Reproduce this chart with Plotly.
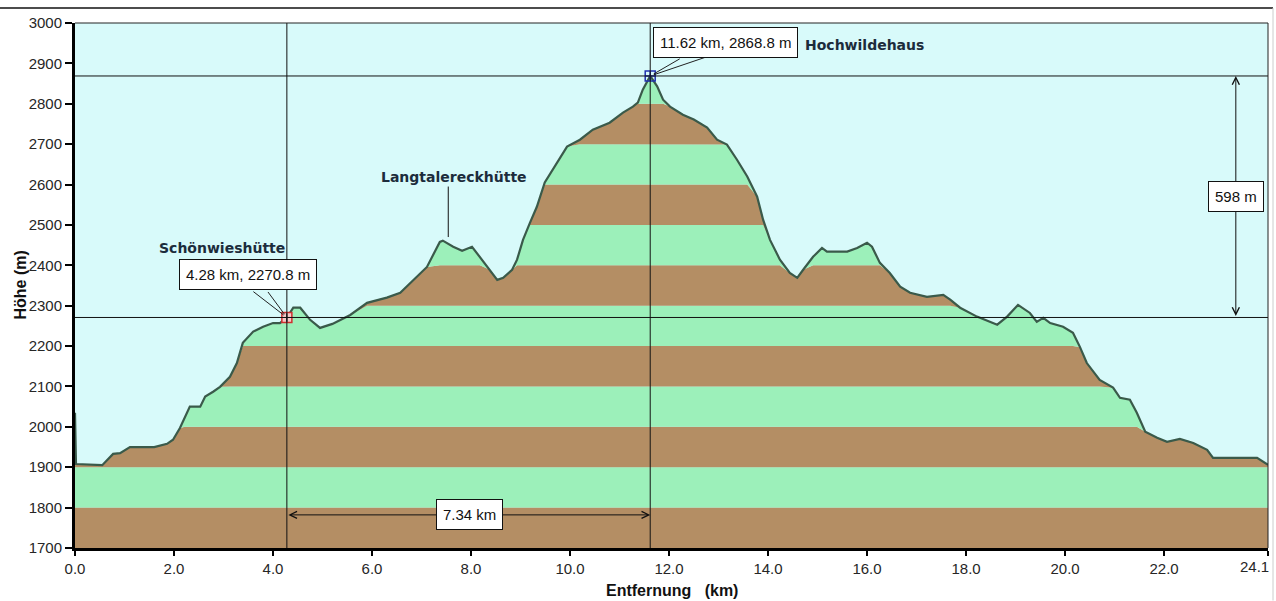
import numpy as np
import plotly.graph_objects as go

# ---- data ----
distance_km = [0.0, 0.02, 0.55, 0.65, 0.77, 0.91, 1.11, 1.37, 1.6, 1.86, 1.98, 2.12, 2.22, 2.32,
               2.53, 2.63, 2.79, 2.93, 3.13, 3.27, 3.39, 3.6, 3.8, 4.0, 4.14, 4.28, 4.41, 4.55,
               4.75, 4.95, 5.2, 5.56, 5.9, 6.3, 6.57, 6.83, 7.11, 7.37, 7.43, 7.64, 7.82, 8.02,
               8.18, 8.38, 8.53, 8.65, 8.83, 8.93, 9.05, 9.19, 9.33, 9.49, 9.74, 9.94, 10.2,
               10.46, 10.8, 11.07, 11.27, 11.37, 11.47, 11.62, 11.76, 11.88, 12.02, 12.28, 12.5,
               12.77, 12.97, 13.17, 13.37, 13.58, 13.78, 13.9, 14.04, 14.24, 14.44, 14.59, 14.71,
               14.91, 15.09, 15.19, 15.6, 15.8, 16.0, 16.1, 16.26, 16.46, 16.67, 16.87, 17.21,
               17.54, 17.68, 17.88, 18.22, 18.63, 18.83, 19.05, 19.29, 19.43, 19.56, 19.7, 19.96,
               20.16, 20.3, 20.44, 20.7, 20.97, 21.11, 21.31, 21.45, 21.62, 21.86, 22.06, 22.32,
               22.59, 22.87, 22.99, 23.39, 23.88, 24.1]
elevation_m = [2035, 1908, 1905, 1918, 1933, 1935, 1950, 1950, 1950, 1958, 1968, 1997, 2025, 2050,
               2050, 2075, 2087, 2099, 2124, 2158, 2208, 2236, 2248, 2257, 2257, 2270.8, 2295, 2295,
               2265, 2245, 2255, 2277, 2307, 2320, 2332, 2364, 2396, 2458, 2461, 2446, 2436, 2446,
               2421, 2389, 2364, 2369, 2389, 2414, 2463, 2505, 2545, 2605, 2654, 2694, 2711,
               2736, 2753, 2778, 2793, 2803, 2835, 2868.8, 2843, 2810, 2793, 2773, 2761,
               2741, 2711, 2699, 2662, 2620, 2570, 2513, 2463, 2414, 2381, 2369, 2389,
               2421, 2443, 2434, 2434, 2443, 2456, 2446, 2406, 2381, 2347, 2332, 2322,
               2327, 2315, 2295, 2273, 2253, 2273, 2302, 2282, 2260, 2270, 2257, 2248,
               2233, 2198, 2158, 2116, 2097, 2072, 2067, 2035, 1988, 1973, 1963, 1970,
               1960, 1943, 1923, 1923, 1923, 1906]

x_ticks = [0, 2, 4, 6, 8, 10, 12, 14, 16, 18, 20, 22, 24.1]
x_tick_text = ["0.0", "2.0", "4.0", "6.0", "8.0", "10.0", "12.0", "14.0", "16.0", "18.0", "20.0", "22.0", "24.1"]
y_ticks = list(range(1700, 3001, 100))

# marked points
pt_a = (4.28, 2270.8)     # Schönwieshütte
pt_b = (11.62, 2868.8)    # Hochwildehaus
hut_names = ["Schönwieshütte", "Langtalereckhütte", "Hochwildehaus"]
dist_label = "7.34 km"
climb_label = "598 m"

band_edges = list(range(1700, 3001, 100))

# ---- styles ----
BG = "#D8FAFA"
GREEN = "#9CF0BA"
BROWN = "#B48E64"
LINE = "#3A5A4A"
TICKFONT = dict(family="Liberation Sans", size=15, color="#262626")
NAMEFONT = dict(family="DejaVu Sans", size=14, color="#1C2C3C", weight="bold")
BOXFONT = dict(family="Liberation Sans", size=15, color="#111111")

x = np.array(distance_km)
y = np.array(elevation_m)

fig = go.Figure()

# base
fig.add_trace(go.Scatter(x=x, y=np.minimum(y, band_edges[0]), mode="lines",
                         line=dict(width=0), hoverinfo="skip", showlegend=False))
for i in range(len(band_edges) - 1):
    hi = band_edges[i + 1]
    col = BROWN if i % 2 == 0 else GREEN
    fig.add_trace(go.Scatter(x=x, y=np.minimum(y, hi), mode="lines", fill="tonexty",
                             fillcolor=col, line=dict(width=0), hoverinfo="skip", showlegend=False))

# reference lines
for xv in (pt_a[0], pt_b[0]):
    fig.add_shape(type="line", x0=xv, x1=xv, y0=1700, y1=3000, xref="x", yref="y",
                  line=dict(color="#111111", width=1))
for yv in (pt_a[1], pt_b[1]):
    fig.add_shape(type="line", x0=0, x1=24.1, y0=yv, y1=yv, xref="x", yref="y",
                  line=dict(color="#111111", width=1))

# profile line
fig.add_trace(go.Scatter(x=x, y=y, mode="lines", line=dict(color=LINE, width=2.2),
                         showlegend=False))

# markers
fig.add_trace(go.Scatter(x=[pt_a[0]], y=[pt_a[1]], mode="markers",
                         marker=dict(symbol="square", size=10, color="#F6CACA",
                                     line=dict(color="#D03030", width=1.5)), showlegend=False))
fig.add_trace(go.Scatter(x=[pt_a[0]], y=[pt_a[1]], mode="markers",
                         marker=dict(symbol="cross-thin", size=6, color="#000000",
                                     line=dict(color="#000000", width=1.2)),
                         showlegend=False))
fig.add_trace(go.Scatter(x=[pt_b[0]], y=[pt_b[1]], mode="markers",
                         marker=dict(symbol="square-cross-open", size=10, color="#2030B0",
                                     line=dict(color="#2030B0", width=1.5)), showlegend=False))

# Langtalereckhütte leader
fig.add_shape(type="line", x0=7.54, x1=7.54, y0=2470, y1=2595, xref="x", yref="y",
              line=dict(color="#111111", width=1))

ann = []
# leader wedges (pixel offsets)
for (px, py), offs in ((pt_a, [(-35, -27), (-20, -27)]), (pt_b, [(31, -18), (59, -20)])):
    for ax, ay in offs:
        ann.append(dict(x=px, y=py, ax=ax, ay=ay, axref="pixel", ayref="pixel", text="",
                        showarrow=True, arrowhead=0, arrowwidth=1, arrowcolor="#222222",
                        standoff=4))

# callout boxes
ann.append(dict(x=3.49, y=2377, xref="x", yref="y", text=f"{pt_a[0]:.2f} km, {pt_a[1]:.1f} m",
                showarrow=False, font=BOXFONT, bgcolor="white", bordercolor="#111111",
                borderwidth=1, borderpad=6))
ann.append(dict(x=13.15, y=2952, xref="x", yref="y", text=f"{pt_b[0]:.2f} km, {pt_b[1]:.1f} m",
                showarrow=False, font=BOXFONT, bgcolor="white", bordercolor="#111111",
                borderwidth=1, borderpad=6))

# hut names
ann.append(dict(x=2.97, y=2443, xref="x", yref="y", text=hut_names[0], showarrow=False, font=NAMEFONT))
ann.append(dict(x=7.66, y=2619, xref="x", yref="y", text=hut_names[1], showarrow=False, font=NAMEFONT))
ann.append(dict(x=14.7, y=2946, xref="x", yref="y", text=hut_names[2], showarrow=False,
                font=NAMEFONT, xanchor="left"))

# distance dimension arrow
ann.append(dict(x=pt_b[0], y=1782, ax=pt_a[0], ay=1782, xref="x", yref="y", axref="x", ayref="y",
                text="", showarrow=True, arrowhead=5, startarrowhead=5, arrowside="end+start",
                arrowsize=1.4, startarrowsize=1.4, arrowwidth=1, arrowcolor="#111111",
                standoff=0, startstandoff=0))
ann.append(dict(x=7.96, y=1783, xref="x", yref="y", text=dist_label, showarrow=False, font=BOXFONT,
                bgcolor="white", bordercolor="#111111", borderwidth=1, borderpad=6))

# height dimension arrow
ann.append(dict(x=23.45, y=pt_b[1], ax=23.45, ay=pt_a[1], xref="x", yref="y", axref="x", ayref="y",
                text="", showarrow=True, arrowhead=5, startarrowhead=5, arrowside="end+start",
                arrowsize=1.4, startarrowsize=1.4, arrowwidth=1, arrowcolor="#111111",
                standoff=0, startstandoff=0))
ann.append(dict(x=23.45, y=2571, xref="x", yref="y", text=climb_label, showarrow=False, font=BOXFONT,
                bgcolor="white", bordercolor="#111111", borderwidth=1, borderpad=6))

# last x tick label, right-aligned at the axis end
ann.append(dict(x=24.1, y=-0.015, xref="x", yref="paper", text=x_tick_text[-1], showarrow=False,
                xanchor="right", yanchor="top", xshift=3, font=TICKFONT))
tick_text_axis = x_tick_text[:-1] + [""]

# axis titles as text
ann.append(dict(x=-0.0461, y=0.5, xref="paper", yref="paper", text="Höhe (m)", textangle=-90,
                xanchor="center", yanchor="middle",
                showarrow=False, font=dict(family="Liberation Sans", size=16, color="#111111", weight="bold")))
ann.append(dict(x=0.5, y=-0.080, xref="paper", yref="paper", text="Entfernung &nbsp;&nbsp;(km)",
                showarrow=False, yanchor="middle", xanchor="center",
                font=dict(family="Liberation Sans", size=16, color="#111111", weight="bold")))

# frame top/right thin lines and outer decoration
fig.add_shape(type="line", xref="paper", yref="paper", x0=0, x1=1, y0=1, y1=1,
              line=dict(color="#222222", width=1))
fig.add_shape(type="line", xref="paper", yref="paper", x0=1, x1=1, y0=0, y1=1,
              line=dict(color="#222222", width=1))
fig.add_shape(type="line", xref="paper", yref="paper", x0=-0.0629, x1=1.0042, y0=1.0286, y1=1.0286,
              line=dict(color="#111111", width=1.5))
fig.add_shape(type="line", xref="paper", yref="paper", x0=1.0042, x1=1.0042, y0=-0.10, y1=1.0286,
              line=dict(color="#CCCCCC", width=1))

fig.update_layout(
    width=1276, height=601,
    margin=dict(l=75, r=8, t=23, b=53),
    paper_bgcolor="white", plot_bgcolor=BG,
    showlegend=False,
    annotations=ann,
    xaxis=dict(range=[0, 24.1], tickvals=x_ticks, ticktext=tick_text_axis, showgrid=False,
               zeroline=False, showline=True, linecolor="#000000", linewidth=3,
               ticks="outside", ticklen=5, tickwidth=2, tickcolor="#000000", tickfont=TICKFONT),
    yaxis=dict(range=[1700, 3000], tickvals=y_ticks, showgrid=False, zeroline=False,
               showline=True, linecolor="#000000", linewidth=3, ticks="outside", ticklen=7,
               tickwidth=2, tickcolor="#000000", tickfont=TICKFONT),
)

fig.write_html("out.html", config={"displayModeBar": False},
               post_script="document.body.style.margin='0';document.body.style.overflow='hidden';")
